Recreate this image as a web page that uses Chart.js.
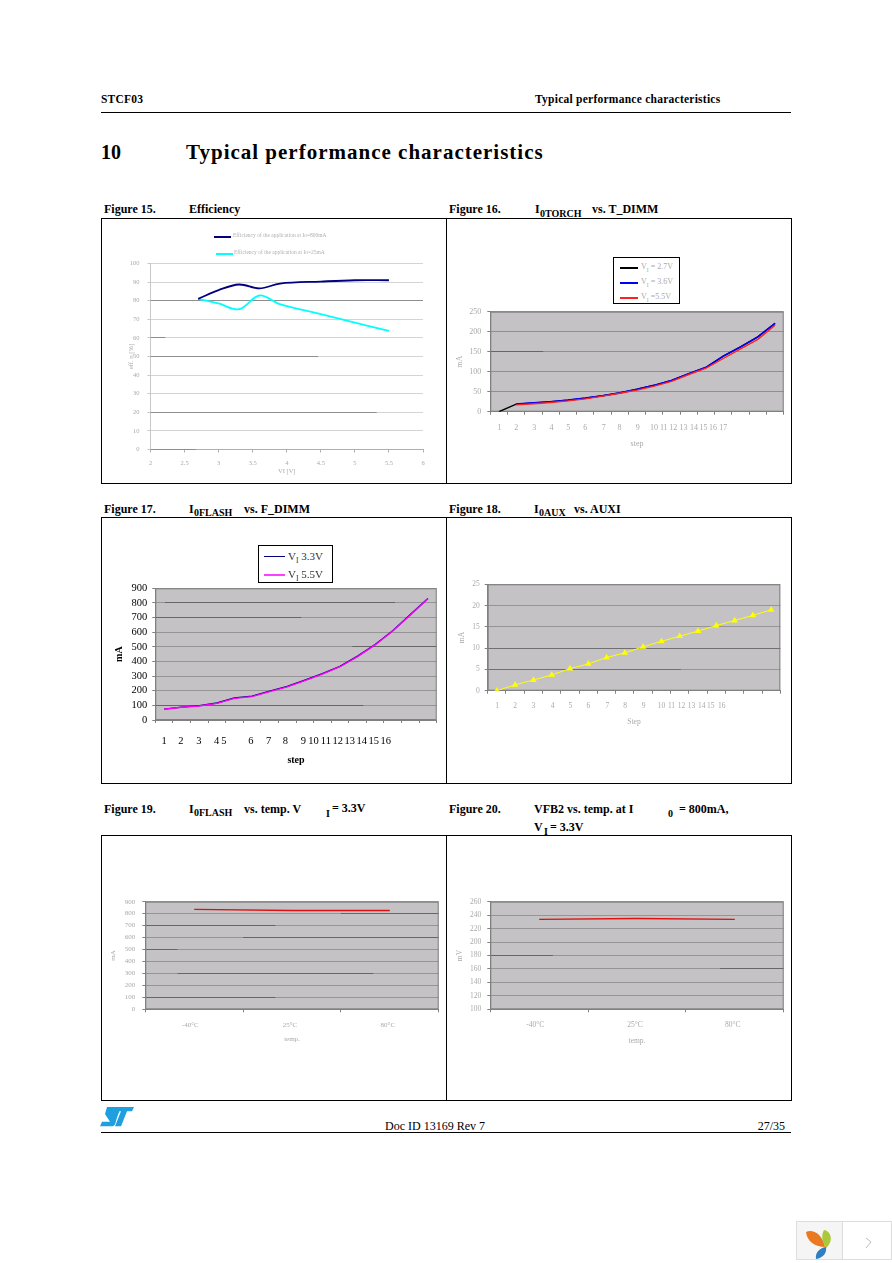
<!DOCTYPE html>
<html>
<head>
<meta charset="utf-8">
<title>STCF03 typical performance characteristics</title>
<script src="https://cdn.jsdelivr.net/npm/chart.js@4/dist/chart.umd.min.js"></script>
<style>
html, body { margin: 0; padding: 0; background: #fff; }
#page { position: relative; width: 892px; height: 1263px; overflow: hidden;
        font-family: "Liberation Serif", serif; color: #000; }
.t { position: absolute; white-space: nowrap; line-height: 1; transform: translateY(-50%); }
.b { font-weight: bold; font-size: 12px; }
.sub { font-weight: bold; font-size: 10px; }
.rule { position: absolute; left: 101px; width: 690px; height: 1px; background: #000; }
.box { position: absolute; border: 1px solid #000; box-sizing: border-box; }
canvas { position: absolute; display: block; }
.legend { position: absolute; box-sizing: border-box; background: #fff; }
.legend.framed { border: 1px solid #000; }
.legend i { position: absolute; height: 1px; display: block; }
.legend span { position: absolute; white-space: nowrap; line-height: 1; transform: translateY(-50%); }
.legend sub { font-size: 70%; line-height: 0; }
</style>
</head>
<body>
<div id="page">
  <div class="t b" style="left:101px;top:100px;font-size:11.5px;letter-spacing:.2px">STCF03</div>
  <div class="t b" style="left:535px;top:100px;font-size:11.5px;letter-spacing:.25px">Typical performance characteristics</div>
  <div class="rule" style="top:112px"></div>
  <div class="t b" style="left:101px;top:152px;font-size:20px">10</div>
  <div class="t" style="left:186px;top:152px;font-size:21px;font-weight:bold;letter-spacing:1px">Typical performance characteristics</div>

  <div class="t b" style="left:104px;top:209px">Figure 15.</div>
  <div class="t b" style="left:189px;top:209px">Efficiency</div>
  <div class="t b" style="left:449px;top:209px">Figure 16.</div>
  <div class="t b" style="left:535px;top:209px">I</div>
  <div class="t sub" style="left:540px;top:214px">0TORCH</div>
  <div class="t b" style="left:592px;top:209px">vs. T_DIMM</div>

  <div class="t b" style="left:104px;top:509px">Figure 17.</div>
  <div class="t b" style="left:189px;top:509px">I</div>
  <div class="t sub" style="left:194px;top:513px">0FLASH</div>
  <div class="t b" style="left:244px;top:509px">vs. F_DIMM</div>
  <div class="t b" style="left:449px;top:509px">Figure 18.</div>
  <div class="t b" style="left:534px;top:509px">I</div>
  <div class="t sub" style="left:539px;top:513px">0AUX</div>
  <div class="t b" style="left:574px;top:509px">vs. AUXI</div>

  <div class="t b" style="left:104px;top:809px">Figure 19.</div>
  <div class="t b" style="left:189px;top:809px">I</div>
  <div class="t sub" style="left:194px;top:813px">0FLASH</div>
  <div class="t b" style="left:244px;top:809px">vs. temp. V</div>
  <div class="t sub" style="left:326px;top:814px">I</div>
  <div class="t b" style="left:332px;top:808px">= 3.3V</div>
  <div class="t b" style="left:449px;top:809px">Figure 20.</div>
  <div class="t b" style="left:534px;top:809px">VFB2 vs. temp. at I</div>
  <div class="t sub" style="left:668px;top:814px">0</div>
  <div class="t b" style="left:679px;top:809px">= 800mA,</div>
  <div class="t b" style="left:534px;top:827px">V</div>
  <div class="t sub" style="left:544px;top:832px">I</div>
  <div class="t b" style="left:550px;top:827px">= 3.3V</div>

  <div class="rule" style="top:1132px"></div>
  <svg style="position:absolute;left:100px;top:1107px" width="34" height="20" viewBox="0 0 34 23" preserveAspectRatio="none">
    <path fill="#1e9fe0" d="M7 0H21L17 12 15 20 13 22H0L2 17H10L5 8Z"/>
    <path fill="#1e9fe0" d="M20 0H34L32 5H27L21 22H15L21 5H18Z"/>
  </svg>
  <div class="t" style="left:385px;top:1126px;font-size:12px">Doc ID 13169 Rev 7</div>
  <div class="t" style="right:107px;top:1126px;font-size:12px">27/35</div>

  <div style="position:absolute;left:796px;top:1221px;width:96px;height:39px;box-sizing:border-box;border:1px solid #ddd;background:#fff"></div>
  <div style="position:absolute;left:797px;top:1222px;width:45px;height:37px;background:#f5f5f5;border-right:1px solid #ddd"></div>
  <svg style="position:absolute;left:796px;top:1221px" width="96" height="39" viewBox="0 0 96 39">
    <path fill="#ea7a22" d="M10 11C16 8 26 12 29 26 20 26 11 21 10 11Z"/>
    <path fill="#a9c93a" d="M28 9C35 10 38 20 30 27 26 21 25 14 28 9Z"/>
    <path fill="#2c7fc4" d="M20 38C19 32 23 27 30 26 31 32 27 37 20 38Z"/>
    <path fill="none" stroke="#bbb" d="M70 17L75 21 70 27"/>
  </svg>
</div>
<script>
// Figure 15
const effV = [2.7, 3, 3.3, 3.6, 3.9, 4.5, 5, 5.5];
const eff800 = [81, 85.7, 88.7, 86.6, 89.2, 90.3, 91, 91];
const eff25 = [81, 78.5, 75.4, 82.8, 78.1, 72.8, 68.2, 63.8];
const effTicks = [2, 2.5, 3, 3.5, 4, 4.5, 5, 5.5, 6];
const effLabels = ["2", "2.5", "3", "3.5", "4", "4.5", "5", "5.5", "6"];
// Figure 16
const torchSteps = [1, 2, 3, 4, 5, 6, 7, 8, 9, 10, 11, 12, 13, 14, 15, 16, 17];
const torch27 = [0, 19, 22, 25, 29, 34, 40, 47, 56, 66, 78, 95, 111, 139, 162, 187, 221];
const torch36 = [null, 19, 22, 25, 29, 34, 40, 47, 56, 66, 78, 95, 111, 139, 162, 187, 221];
const torch55 = [null, 17, 20, 23, 27, 32, 39, 46, 54, 64, 76, 93, 109, 133, 157, 181, 216];
const torchLabels = ["1", "2", "3", "4", "5", "6", "7", "8", "9", "10", "11", "12", "13", "14", "15", "16", "17"];
// Figure 17
const flashSteps = [1, 2, 3, 4, 5, 6, 7, 8, 9, 10, 11, 12, 13, 14, 15, 16];
const flash33 = [74, 88, 98, 116, 151, 163, 197, 230, 273, 317, 367, 436, 516, 610, 720, 830];
const flash55 = [73, 87, 96, 114, 148, 160, 194, 226, 269, 314, 364, 433, 513, 608, 718, 829];
const flashLabels = ["1", "2", "3", "4", "5", "6", "7", "8", "9", "10", "11", "12", "13", "14", "15", "16"];
// Figure 18
const auxSteps = [1, 2, 3, 4, 5, 6, 7, 8, 9, 10, 11, 12, 13, 14, 15, 16];
const auxCurrent = [0, 1.4, 2.5, 3.7, 5.2, 6.3, 7.8, 8.9, 10.3, 11.6, 12.8, 14, 15.3, 16.5, 17.7, 19];
const auxLabels = ["1", "2", "3", "4", "5", "6", "7", "8", "9", "10", "11", "12", "13", "14", "15", "16"];
// Figures 19 and 20
const tempSteps = [1, 2, 3];
const tempLabels = ["-40°C", "25°C", "80°C"];
const flashVsTemp = [836, 827, 827];
const vfbVsTemp = [233.7, 235, 233.7];

// where the labels really sit along each x axis, the reference has them drifting off the ticks
const torchLabelPos = [1.04, 2, 3.05, 4.05, 5.02, 6, 7.07, 7.98, 9.04, 9.98, 10.55, 11.1, 11.7, 12.3, 12.85, 13.4, 14];
const flashLabelPos = [1, 1.95, 2.98, 3.98, 4.4, 5.93, 6.95, 7.9, 8.92, 9.5, 10.2, 10.88, 11.56, 12.24, 12.92, 13.6];
const auxLabelPos = [1.02, 2, 3, 4.05, 5.02, 6, 7.05, 8.02, 9.02, 10, 10.55, 11.1, 11.65, 12.2, 12.7, 13.3];
const tempLabelPos = [.96, 1.98, 2.98];

// darker stretches of the gridlines: [y value, from x, to x]
const effDark = [[80, 2, 6], [50, 2, 4.46], [20, 2, 5.32], [60, 2, 2.22], [0, 2, 2.67]];
const torchDark = [[150, .5, 3.57]];
const flashDark = [[800, 1.05, 14.13], [700, .5, 8.8], [500, 11.7, 16.5], [100, .5, 12.33]];
const auxDark = [[10, .5, 16.5], [5, .5, 11.06]];
const flashTempDark = [[800, 2.5, 3.5], [700, .5, 1.83], [600, 1.5, 3.5], [500, .5, .83], [300, .83, 2.83], [100, .5, 1.83]];
const vfbTempDark = [[180, .5, 1.14], [160, 2.85, 3.5]];

function points(xs, ys) {
    return xs.map((x, i) => ({ x: x, y: ys[i] }));
}

function halfSteps(n) {
    const out = [];
    for (let i = 0; i <= n; i++) out.push(i + .5);
    return out;
}

// one figure: the canvas fills the frame, the plot rectangle is forced by the axis sizes
function figure(c) {
    const page = document.getElementById("page");
    const frame = document.createElement("div");
    frame.className = "box";
    frame.style.cssText = `left:${c.box[0]}px;top:${c.box[1]}px;width:${c.box[2] - c.box[0] + 1}px;height:${c.box[3] - c.box[1] + 1}px`;
    page.appendChild(frame);

    const canvas = document.createElement("canvas");
    canvas.width = c.box[2] - c.box[0];
    canvas.height = c.box[3] - c.box[1];
    canvas.style.left = c.box[0] + "px";
    canvas.style.top = c.box[1] + "px";
    page.appendChild(canvas);

    const ink = c.ink || "#aaa";
    const font = { family: "Liberation Serif", size: c.size };
    const titleFont = { family: "Liberation Serif", size: c.titleSize || c.size, weight: c.titleWeight || "normal" };
    const titleLine = (c.titleSize || c.size) * 1.2;
    const bottomSpace = c.box[3] - c.plot[3];

    new Chart(canvas, {
        type: "line",
        data: {
            datasets: c.series.map((s, i) => ({
                data: s.data,
                // later series go on top
                order: c.series.length - i,
                borderColor: s.color,
                backgroundColor: s.fill || s.color,
                borderWidth: s.width || 1.4,
                tension: s.tension || 0,
                pointRadius: s.marker ? 3.8 : 0,
                pointStyle: s.marker || "circle",
                pointBorderWidth: 0,
                spanGaps: false
            }))
        },
        options: {
            responsive: false,
            animation: false,
            events: [],
            layout: { padding: { left: 0, bottom: 0, top: c.plot[1] - c.box[1], right: c.box[2] - c.plot[2] } },
            plugins: { legend: { display: false }, tooltip: { enabled: false } },
            scales: {
                x: {
                    type: "linear",
                    position: "bottom",
                    weight: 0,
                    min: c.xMin,
                    max: c.xMax,
                    afterFit: s => { s.height = 4; },
                    afterBuildTicks: s => { s.ticks = c.tickPos.map(v => ({ value: v })); },
                    ticks: { display: false, autoSkip: false },
                    border: { color: c.axisColor || "#808080", width: 1 },
                    grid: { drawOnChartArea: false, tickLength: 3, tickColor: c.axisColor || "#808080" }
                },
                xl: {
                    type: "linear",
                    position: "bottom",
                    axis: "x",
                    weight: 1,
                    min: c.xMin,
                    max: c.xMax,
                    afterFit: s => { s.height = bottomSpace - 4; },
                    afterBuildTicks: s => { s.ticks = c.labelPos.map(v => ({ value: v })); },
                    ticks: {
                        autoSkip: false, maxRotation: 0, color: ink, font: font, padding: c.xPad,
                        callback: (v, i) => c.labels[i]
                    },
                    border: { display: false },
                    grid: { display: false, drawTicks: false },
                    title: {
                        display: true, text: c.xTitle, color: ink, font: titleFont,
                        padding: { top: 0, bottom: c.xTitleGap - titleLine / 2 }
                    }
                },
                y: {
                    min: c.yMin,
                    max: c.yMax,
                    afterFit: s => { s.width = c.plot[0] - c.box[0]; },
                    ticks: { stepSize: c.yStep, autoSkip: false, color: ink, font: font, padding: c.yPad },
                    border: { color: c.yAxisColor || "#808080", width: 1 },
                    grid: { color: c.grid, lineWidth: 1, tickLength: 3, tickColor: c.yAxisColor || "#808080" },
                    title: {
                        display: true, text: c.yTitle, color: ink, font: titleFont,
                        padding: { top: c.yTitleGap - titleLine / 2, bottom: 0 }
                    }
                }
            }
        },
        plugins: [{
            id: "plotArea",
            beforeDraw(chart) {
                if (!c.plotBg) return;
                const a = chart.chartArea;
                chart.ctx.fillStyle = c.plotBg;
                chart.ctx.fillRect(a.left, a.top, a.width, a.height);
            },
            beforeDatasetsDraw(chart) {
                const ctx = chart.ctx, a = chart.chartArea;
                ctx.save();
                ctx.strokeStyle = c.dark || "#666";
                ctx.lineWidth = 1;
                (c.darkRuns || []).forEach(r => {
                    // same pixel snapping as the grid lines
                    const y = Math.round(chart.scales.y.getPixelForValue(r[0]) - .5) + .5;
                    ctx.beginPath();
                    ctx.moveTo(chart.scales.x.getPixelForValue(r[1]), y);
                    ctx.lineTo(chart.scales.x.getPixelForValue(r[2]), y);
                    ctx.stroke();
                });
                if (c.plotBg) {
                    ctx.strokeStyle = "#808080";
                    ctx.strokeRect(a.left + .5, a.top + .5, a.width - 1, a.height - 1);
                }
                ctx.restore();
            }
        }]
    });

    if (c.legend) {
        const l = document.createElement("div");
        l.className = "legend" + (c.legend.framed ? " framed" : "");
        l.style.cssText = `left:${c.legend.x}px;top:${c.legend.y}px;width:${c.legend.w}px;height:${c.legend.h}px;background:${c.legend.framed ? "#fff" : "transparent"}`;
        c.legend.items.forEach(it => {
            const i = document.createElement("i");
            i.style.cssText = `left:${it.x0}px;width:${it.x1 - it.x0}px;top:${it.y}px;background:${it.color};height:${it.line || c.legend.line || 1}px`;
            const s = document.createElement("span");
            s.innerHTML = it.text;
            s.style.cssText = `left:${it.tx}px;top:${it.y}px;font-size:${c.legend.size}px;color:${c.legend.ink}`;
            l.appendChild(i);
            l.appendChild(s);
        });
        page.appendChild(l);
    }
}

figure({
    box: [101, 218, 446, 483], plot: [150.5, 263.5, 423, 449.5],
    series: [
        { data: points(effV, eff25), color: "#00ffff", width: 1.8, tension: .35 },
        { data: points(effV, eff800), color: "#000080", width: 1.8, tension: .35 }
    ],
    xMin: 2, xMax: 6, tickPos: effTicks, labelPos: effTicks, labels: effLabels,
    yMin: 0, yMax: 100, yStep: 10, grid: "#d4d4d4", darkRuns: effDark, dark: "#8e8e8e",
    size: 6.5, xPad: 6, yPad: 8, yAxisColor: "#c8c8c8", axisColor: "#b0b0b0",
    xTitle: "VI [V]", xTitleGap: 11.3, yTitle: "eff. η [%]", yTitleGap: 30,
    legend: {
        x: 210, y: 229, w: 130, h: 34, size: 5.5, ink: "#b0b0b0", line: 2,
        items: [
            { x0: 4, x1: 21, y: 7, tx: 23, color: "#000080", text: "Efficiency of the application at Io=800mA" },
            { x0: 6, x1: 23, y: 24, tx: 24, color: "#00ffff", text: "Efficiency of the application at Io=25mA" }
        ]
    }
});

figure({
    box: [446, 218, 791, 483], plot: [490.3, 311.7, 783.7, 411.7],
    plotBg: "#c4c2c5", grid: "#8f8f8f", darkRuns: torchDark,
    series: [
        { data: points(torchSteps, torch27), color: "#000000" },
        { data: points(torchSteps, torch36), color: "#0000ff", width: 1.6 },
        { data: points(torchSteps, torch55), color: "#ff2020" }
    ],
    xMin: .5, xMax: 17.5, tickPos: halfSteps(17), labelPos: torchLabelPos, labels: torchLabels,
    yMin: 0, yMax: 250, yStep: 50,
    size: 8, xPad: 7, yPad: 6,
    xTitle: "step", xTitleGap: 38.7, yTitle: "mA", yTitleGap: 14,
    legend: {
        framed: true, x: 613, y: 257, w: 67, h: 47, size: 8, ink: "#aaa", line: 2,
        items: [
            { x0: 6, x1: 24, y: 9, tx: 27, color: "#000", text: "V<sub>I</sub> = 2.7V" },
            { x0: 6, x1: 24, y: 24, tx: 27, color: "#0000ff", text: "V<sub>I</sub> = 3.6V" },
            { x0: 6, x1: 24, y: 39, tx: 27, color: "#ff2020", text: "V<sub>I</sub> =5.5V" }
        ]
    }
});

figure({
    box: [101, 517, 446, 783], plot: [155.3, 588.3, 436.7, 720],
    plotBg: "#c4c2c5", grid: "#959595", darkRuns: flashDark,
    series: [
        { data: points(flashSteps, flash33), color: "#000080" },
        { data: points(flashSteps, flash55), color: "#ff00ff" }
    ],
    xMin: .5, xMax: 16.5, tickPos: halfSteps(16), labelPos: flashLabelPos, labels: flashLabels,
    yMin: 0, yMax: 900, yStep: 100,
    size: 10.5, ink: "#000", xPad: 10.5, yPad: 5,
    xTitle: "step", xTitleGap: 23, titleSize: 10, titleWeight: "bold", yTitle: "mA", yTitleGap: 18,
    legend: {
        framed: true, x: 258, y: 545, w: 75, h: 38, size: 11, ink: "#333",
        items: [
            { x0: 5, x1: 26, y: 10, tx: 29, color: "#000080", text: "V<sub>I</sub> 3.3V" },
            { x0: 5, x1: 26, y: 28, tx: 29, color: "#ff40ff", line: 2, text: "V<sub>I</sub> 5.5V" }
        ]
    }
});

figure({
    box: [446, 517, 791, 783], plot: [487.7, 584.3, 780.3, 690.7],
    plotBg: "#c4c2c5", grid: "#959595", darkRuns: auxDark, dark: "#707070",
    series: [
        { data: points(auxSteps, auxCurrent), color: "#ffff00", width: 1, marker: "triangle" }
    ],
    xMin: .5, xMax: 16.5, tickPos: halfSteps(16), labelPos: auxLabelPos, labels: auxLabels,
    yMin: 0, yMax: 25, yStep: 5,
    size: 7.5, xPad: 7.3, yPad: 5,
    xTitle: "Step", xTitleGap: 61.3, yTitle: "mA", yTitleGap: 16
});

figure({
    box: [101, 835, 446, 1100], plot: [145.3, 901.7, 438.7, 1009.3],
    plotBg: "#c4c2c5", grid: "#959595", darkRuns: flashTempDark,
    series: [
        { data: points(tempSteps, flashVsTemp), color: "#e01010" }
    ],
    xMin: .5, xMax: 3.5, tickPos: halfSteps(3), labelPos: tempLabelPos, labels: tempLabels,
    yMin: 0, yMax: 900, yStep: 100,
    size: 7, xPad: 7.5, yPad: 7,
    xTitle: "temp.", xTitleGap: 60.7, yTitle: "mA", yTitleGap: 12
});

figure({
    box: [446, 835, 791, 1100], plot: [490.3, 901.7, 783.7, 1009.3],
    plotBg: "#c4c2c5", grid: "#959595", darkRuns: vfbTempDark,
    series: [
        { data: points(tempSteps, vfbVsTemp), color: "#e01010" }
    ],
    xMin: .5, xMax: 3.5, tickPos: halfSteps(3), labelPos: tempLabelPos, labels: tempLabels,
    yMin: 100, yMax: 260, yStep: 20,
    size: 7.5, xPad: 7, yPad: 6,
    xTitle: "temp.", xTitleGap: 59, yTitle: "mV", yTitleGap: 14
});
</script>
</body>
</html>
